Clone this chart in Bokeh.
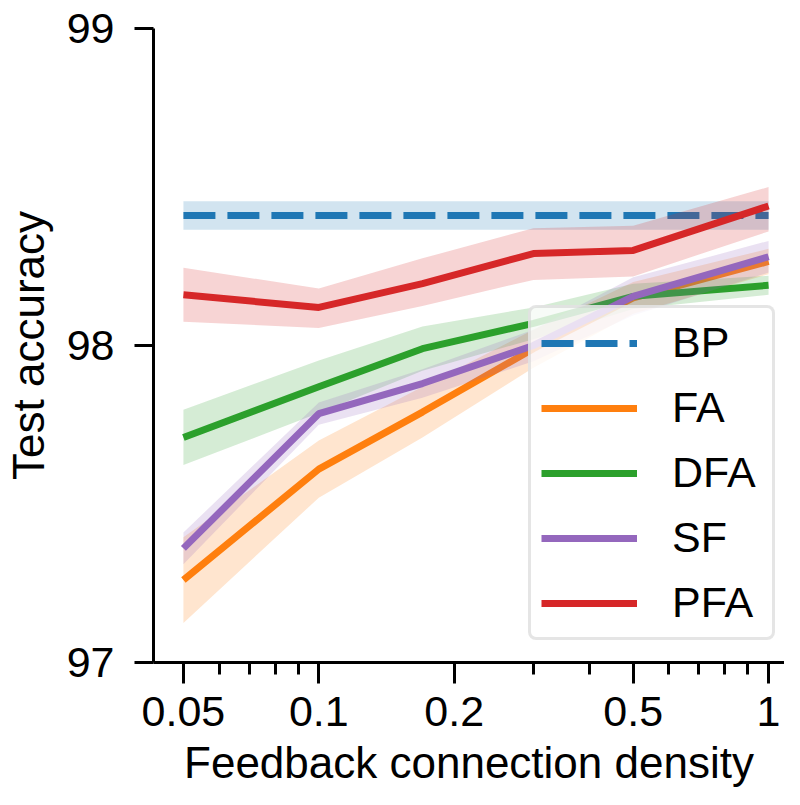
from bokeh.plotting import figure
from bokeh.models import (FixedTicker, CustomJSTickFormatter, Range1d, Legend, LegendItem)
from bokeh.embed import file_html
from bokeh.resources import INLINE

# ---- data ----
density = [0.05, 0.1, 0.17, 0.3, 0.5, 1.0]

bp_mean = [98.41, 98.41, 98.41, 98.41, 98.41, 98.41]
bp_err = [0.045, 0.045, 0.045, 0.045, 0.045, 0.045]

fa_mean = [97.26, 97.61, 97.79, 97.99, 98.15, 98.265]
fa_err = [0.135, 0.09, 0.08, 0.06, 0.05, 0.04]

dfa_mean = [97.71, 97.87, 97.99, 98.07, 98.155, 98.19]
dfa_err = [0.087, 0.083, 0.07, 0.05, 0.04, 0.03]

sf_mean = [97.36, 97.785, 97.88, 98.0, 98.155, 98.28]
sf_err = [0.05, 0.035, 0.045, 0.05, 0.06, 0.05]

pfa_mean = [98.16, 98.12, 98.195, 98.29, 98.30, 98.44]
pfa_lo = [98.075, 98.055, 98.125, 98.207, 98.218, 98.36]
pfa_hi = [98.245, 98.18, 98.275, 98.37, 98.378, 98.50]

labels = ["BP", "FA", "DFA", "SF", "PFA"]
colors = ["#1f77b4", "#ff7f0e", "#2ca02c", "#9467bd", "#d62728"]

x_major = [0.05, 0.1, 0.2, 0.5, 1.0]
x_minor = [0.06, 0.07, 0.08, 0.09, 0.3, 0.4, 0.6, 0.7, 0.8, 0.9]
y_major = [97, 98, 99]

FONT = "Liberation Sans"

p = figure(width=784, height=789, x_axis_type="log",
           x_range=Range1d(0.0429, 1.085), y_range=Range1d(97, 99),
           output_backend="svg", toolbar_location=None,
           min_border_left=152, min_border_right=0, min_border_top=28,
           min_border_bottom=0)
p.outline_line_color = None
p.grid.visible = False
p.background_fill_color = "white"
p.border_fill_color = "white"

def band(lo, hi, color):
    p.varea(x=density, y1=lo, y2=hi, fill_color=color, fill_alpha=0.2)

renderers = []
# BP
band([m - e for m, e in zip(bp_mean, bp_err)], [m + e for m, e in zip(bp_mean, bp_err)], colors[0])
r = p.line(density, bp_mean, line_color=colors[0], line_width=7, line_dash="32 12")
renderers.append(r)
for mean, err, c in [(fa_mean, fa_err, colors[1]), (dfa_mean, dfa_err, colors[2]), (sf_mean, sf_err, colors[3])]:
    band([m - e for m, e in zip(mean, err)], [m + e for m, e in zip(mean, err)], c)
    r = p.line(density, mean, line_color=c, line_width=7)
    renderers.append(r)
band(pfa_lo, pfa_hi, colors[4])
r = p.line(density, pfa_mean, line_color=colors[4], line_width=7)
renderers.append(r)

# axes
xa = p.xaxis[0]
xa.ticker = FixedTicker(ticks=x_major, minor_ticks=x_minor)
xa.formatter = CustomJSTickFormatter(code="return tick.toString();")
ya = p.yaxis[0]
ya.ticker = FixedTicker(ticks=y_major)

for ax in (xa, ya):
    ax.axis_line_width = 3
    ax.axis_line_color = "black"
    ax.major_tick_line_width = 3
    ax.minor_tick_line_width = 3
    ax.major_tick_in = 0
    ax.minor_tick_in = 0
    ax.major_label_text_font = FONT
    ax.major_label_text_font_size = "43px"
    ax.major_label_text_color = "black"
    ax.axis_label_text_font = FONT
    ax.axis_label_text_font_size = "44px"
    ax.axis_label_text_font_style = "normal"
    ax.axis_label_text_color = "black"

xa.major_tick_out = 21
xa.minor_tick_out = 12
xa.major_label_standoff = 13
xa.axis_label_standoff = 9
xa.axis_label = "Feedback connection density"

ya.major_tick_out = 19
ya.minor_tick_out = 0
ya.major_label_standoff = 20
ya.axis_label_standoff = 11
ya.axis_label = "Test accuracy"

legend = Legend(items=[LegendItem(label=l, renderers=[rr]) for l, rr in zip(labels, renderers)],
                location=(375, 22))
legend.label_text_font = FONT
legend.label_text_font_size = "43px"
legend.label_text_color = "black"
legend.glyph_width = 96
legend.glyph_height = 46
legend.label_height = 46
legend.label_width = 90
legend.label_standoff = 35
legend.spacing = 16
legend.padding = 10
legend.margin = 0
legend.border_line_color = "#cccccc"
legend.border_line_width = 3
legend.background_fill_color = "white"
legend.background_fill_alpha = 0.8
try:
    legend.border_radius = 8
except Exception:
    pass
p.add_layout(legend, "center")

open("out.html", "w").write(file_html(p, INLINE))
